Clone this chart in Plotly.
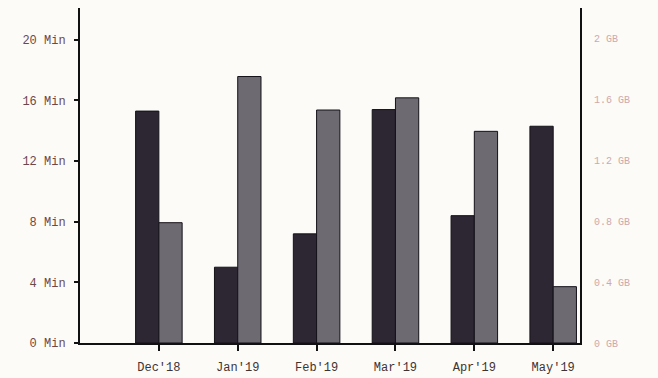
import plotly.graph_objects as go

months = ["Dec'18", "Jan'19", "Feb'19", "Mar'19", "Apr'19", "May'19"]
minutes = [15.3, 5.0, 7.2, 15.4, 8.4, 14.3]
data_gb = [0.79, 1.75, 1.53, 1.61, 1.39, 0.37]

min_ticks = [0, 4, 8, 12, 16, 20]
min_labels = [f"{v} Min" for v in min_ticks]
gb_ticks = [0, 0.4, 0.8, 1.2, 1.6, 2]
gb_labels = ["0 GB", "0.4 GB", "0.8 GB", "1.2 GB", "1.6 GB", "2 GB"]

font = "Liberation Mono, Courier New, monospace"

fig = go.Figure()
fig.add_trace(go.Bar(x=months, y=minutes, name="Minutes", marker_color="#2c2733",
                     marker_line_color="#141118", marker_line_width=1,
                     offsetgroup=0, yaxis="y"))
fig.add_trace(go.Bar(x=months, y=data_gb, name="Data", marker_color="#6d6a72",
                     marker_line_color="#141118", marker_line_width=1,
                     offsetgroup=1, yaxis="y2"))

fig.update_layout(
    width=658, height=378,
    margin=dict(l=80, r=78, t=8, b=35, pad=0),
    paper_bgcolor="#fcfbf8", plot_bgcolor="#fcfbf8",
    showlegend=False,
    barmode="group", bargap=0.41, bargroupgap=0,
    font=dict(family=font, size=11, color="#7a5656"),
    xaxis=dict(range=[-1.0, 5.34], showline=True, linecolor="#111", linewidth=2,
               ticks="outside", ticklen=6, tickcolor="#111", tickwidth=2,
               ticklabelstandoff=6, automargin=False,
               showgrid=False, tickfont=dict(size=12, color="#3e3434")),
    yaxis=dict(range=[0, 22.1], tickvals=min_ticks, ticktext=min_labels,
               showline=True, linecolor="#111", linewidth=2, showgrid=False,
               ticks="outside", ticklen=4, tickcolor="#111", tickwidth=2,
               ticklabelstandoff=6, automargin=False,
               zeroline=False, tickfont=dict(size=12, color="#6e4848")),
    yaxis2=dict(range=[0, 2.2], tickvals=gb_ticks, ticktext=gb_labels,
                overlaying="y", side="right", showline=True, linecolor="#111",
                linewidth=2, showgrid=False, zeroline=False, ticks="",
                ticklabelstandoff=10, automargin=False,
                tickfont=dict(size=10, color="#cfa9a9")),
)

# the page's default body margin would shift the chart by 8px
fig.write_html("out.html", config={"displayModeBar": False},
               post_script="document.body.style.margin='0';")
